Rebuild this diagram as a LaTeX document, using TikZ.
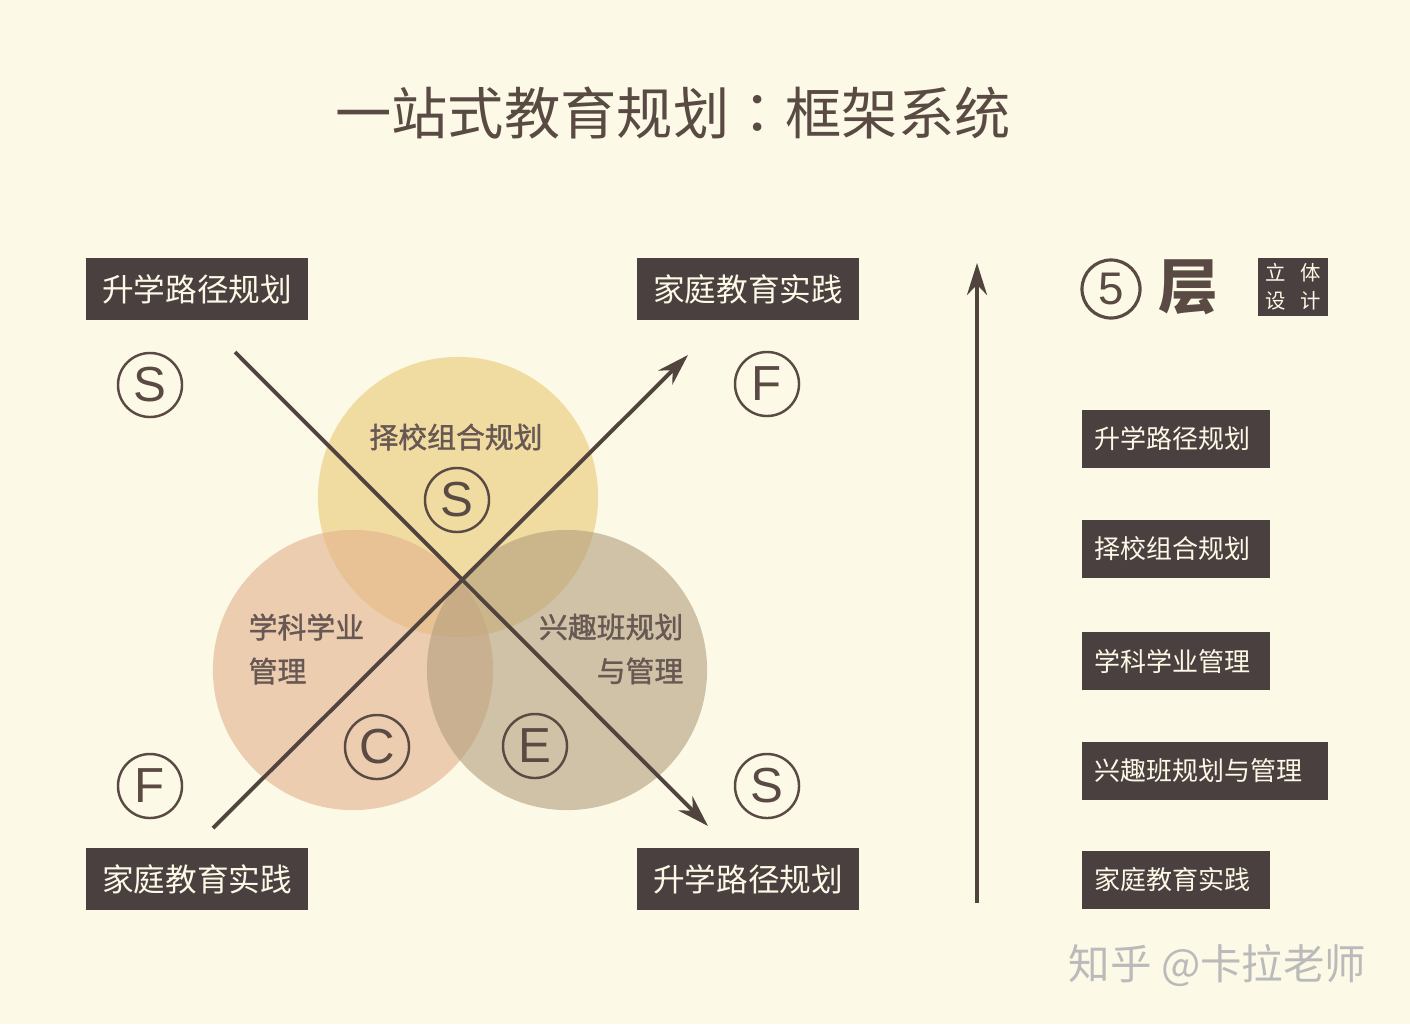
\documentclass[tikz,border=0pt]{standalone}
\usepackage{fontspec}
\setmainfont{Liberation Sans}
\newfontfamily\cjk{Noto Sans CJK SC}
\newfontfamily\cjkmid[FakeBold=1.3]{Noto Sans CJK SC}
\newfontfamily\cjktc{Noto Sans CJK TC}
\usetikzlibrary{arrows.meta}
\definecolor{paper}{HTML}{FCF9E6}
\definecolor{boxbrown}{HTML}{4B4040}
\definecolor{inkbrown}{HTML}{5A4A44}
\definecolor{sunfill}{HTML}{EBCF85}
\definecolor{peachfill}{HTML}{E3B08C}
\definecolor{stonefill}{HTML}{B29E7C}
\tikzset{
  tagbox/.style={fill=boxbrown, text=paper, font=\cjk\fontsize{9}{9}\selectfont,
    minimum width=2.22cm, minimum height=0.62cm, inner sep=0pt},
  layerbox/.style={fill=boxbrown, text=paper, font=\cjk\fontsize{7.4}{7.4}\selectfont,
    anchor=west, minimum height=0.58cm, inner xsep=0.13cm, inner ysep=0pt,
    text width=#1, align=left},
  letter/.style={circle, draw=inkbrown, line width=0.7pt, text=inkbrown,
    minimum size=0.64cm, inner sep=0pt, font=\fontsize{14}{14}\selectfont},
  venntext/.style={text=inkbrown!92, inner sep=0pt, font=\cjkmid\fontsize{8.2}{12.5}\selectfont},
  axis/.style={draw=inkbrown!90!black, line width=1.1pt, -{Stealth[length=0.32cm,width=0.2cm]}}
}
\begin{document}
\begin{tikzpicture}[x=0.01cm,y=-0.01cm]
\fill[paper] (0,0) rectangle (1410,1024);
\useasboundingbox (0,0) rectangle (1410,1024);
% title
\node[text=inkbrown, font=\cjk\fontsize{16}{16}\selectfont] (title) at (673,113) {一站式教育规划{\cjktc ：}框架系统};
% three circles
\fill[sunfill, opacity=0.7] (458,497) circle[radius=1.4cm];
\fill[peachfill, opacity=0.6] (353,670) circle[radius=1.4cm];
\fill[stonefill, opacity=0.6] (567,670) circle[radius=1.4cm];
\node[venntext] (school) at (456,437) {择校组合规划};
\node[venntext, align=left, anchor=west] (subject) at (248,649) {学科学业\\管理};
\node[venntext, align=right, anchor=east] (hobby) at (684,649) {兴趣班规划\\与管理};
\node[letter] (sIn) at (457,500) {S};
\node[letter] (cIn) at (377,747) {C};
\node[letter] (eIn) at (535,746) {E};
% corners
\node[tagbox] (tl) at (197,289) {升学路径规划};
\node[tagbox] (tr) at (748,289) {家庭教育实践};
\node[tagbox] (bl) at (197,879) {家庭教育实践};
\node[tagbox] (br) at (748,879) {升学路径规划};
\node[letter] (sTl) at (150,385) {S};
\node[letter] (fTr) at (767,384) {F};
\node[letter] (fBl) at (150,786) {F};
\node[letter] (sBr) at (767,786) {S};
% the cross
\coordinate (d1a) at (235,352);
\coordinate (d1b) at (708,826);
\coordinate (d2a) at (213,828);
\coordinate (d2b) at (688,355);
\draw[axis] (d1a) -- (d1b);
\draw[axis] (d2a) -- (d2b);
% vertical axis
\coordinate (up0) at (977,903);
\coordinate (up1) at (977,263);
\draw[axis] (up0) -- (up1);
% five layers
\node[circle, draw=inkbrown, line width=0.9pt, minimum size=0.58cm, inner sep=0pt,
  text=inkbrown, font=\fontsize{13}{13}\selectfont] (five) at (1111,289) {5};
\node[text=inkbrown, font=\cjk\bfseries\fontsize{17}{17}\selectfont] (ceng) at (1188,287) {层};
\node[fill=boxbrown, text=paper, minimum width=0.7cm, minimum height=0.58cm, inner sep=0pt,
  font=\cjk\fontsize{5.8}{8}\selectfont, align=center] (solid) at (1293,287) {立\hspace{0.7em}体\\设\hspace{0.7em}计};
\foreach \y/\txt/\w/\nm in {439/升学路径规划/1.62cm/la, 549/择校组合规划/1.62cm/lb,
  661/学科学业管理/1.62cm/lc, 771/兴趣班规划与管理/2.2cm/ld, 880/家庭教育实践/1.62cm/le}
  \node[layerbox=\w] (\nm) at (1081,\y) {\txt};
% watermark
\node[text=black!27, inner sep=0pt, font=\cjk\fontsize{11.8}{11.8}\selectfont, anchor=west] (mark) at (1068,965) {知乎 @卡拉老师};
\end{tikzpicture}
\end{document}
